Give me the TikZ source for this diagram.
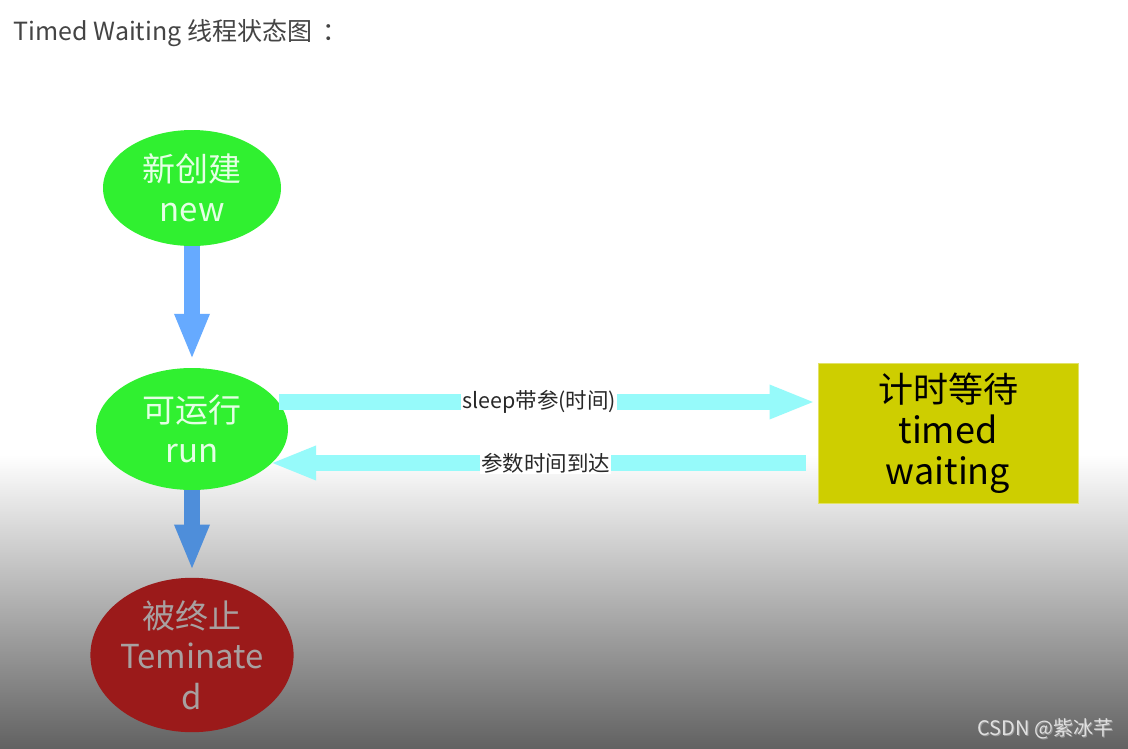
\documentclass[tikz,border=0pt]{standalone}
\usepackage{fontspec}
\setmainfont{Noto Sans CJK SC}
\usetikzlibrary{shapes.geometric,arrows.meta,calc}
\definecolor{stgreen}{RGB}{48,240,48}
\definecolor{stgreentext}{RGB}{228,255,228}
\definecolor{arrblue}{RGB}{102,170,255}
\definecolor{arrblue2}{RGB}{78,142,218}
\definecolor{arrcyan}{RGB}{150,250,250}
\definecolor{twyellow}{RGB}{206,206,0}
\definecolor{termred}{RGB}{155,26,26}
\definecolor{termtext}{RGB}{168,160,160}
\definecolor{titlegray}{RGB}{68,68,68}
\definecolor{bgbottom}{RGB}{98,98,98}
\definecolor{labelgray}{RGB}{40,40,40}
\tikzset{
  statenode/.style={ellipse, inner sep=0pt, align=center, font=\fontsize{33}{40.5}\selectfont},
  greenstate/.style={statenode, fill=stgreen, text=stgreentext},
  redstate/.style={statenode, fill=termred, text=termtext},
  waitbox/.style={rectangle, fill=twyellow, draw=twyellow!60!white, line width=1pt, inner sep=0pt,
    minimum width=260pt, minimum height=140pt, align=center, font=\fontsize{36}{41}\selectfont, text=black},
  downarrow/.style={line width=16pt, -{Triangle[width=32pt,length=46pt]}},
  sidearrow/.style={draw=arrcyan, line width=16pt, -{Triangle[width=31pt,length=46pt]}},
  arrowlabel/.style={fill=white, inner sep=1pt, text=labelgray, font=\fontsize{21.5}{24}\selectfont},
}
\begin{document}
\begin{tikzpicture}[x=1pt,y=-1pt]
\useasboundingbox (0,0) rectangle (1128,748);
\fill[white] (0,0) rectangle (1128,456);
\shade[top color=white,bottom color=bgbottom] (0,455) rectangle (1128,748);

\node[anchor=base west, text=titlegray, font=\fontsize{25}{28}\selectfont] (title) at (10,40) {Timed Waiting 线程状态图\hspace{10pt}：};

\node[greenstate, minimum width=178pt, minimum height=116pt] (new) at (192,188) {新创建\\new};
\node[greenstate, minimum width=192pt, minimum height=122pt] (run) at (192,429) {可运行\\run};
\node[redstate, minimum width=198pt, minimum height=126pt] (term) at (192,655) {被终止\\Teminate\\d};
\node[waitbox] (tw) at (948,433) {{\fontsize{35}{41}\selectfont 计时等待}\\timed\\waiting};

\draw[downarrow, draw=arrblue] (new.south) -- ($(run.north)+(0,-8)$);
\draw[downarrow, draw=arrblue2] (run.south) -- ($(term.north)+(0,-7)$);

\draw[sidearrow] ($(run.center)+(87,-27)$) -- ($(tw.west)+(-2,-31)$)
  node[arrowlabel, pos=0.485] (lsleep) {sleep带参(时间)};
\draw[sidearrow] ($(tw.west)+(-12,30)$) -- ($(run.center)+(78,34)$)
  node[arrowlabel, pos=0.485] (larrive) {参数时间到达};

\node[anchor=base east, text=black!40, font=\fontsize{20}{22}\selectfont] at ($(1117,735)+(1,1)$) {CSDN @紫冰芊};
\node[anchor=base east, text=black!12, font=\fontsize{20}{22}\selectfont] (wm) at (1117,735) {CSDN @紫冰芊};
\end{tikzpicture}
\end{document}
